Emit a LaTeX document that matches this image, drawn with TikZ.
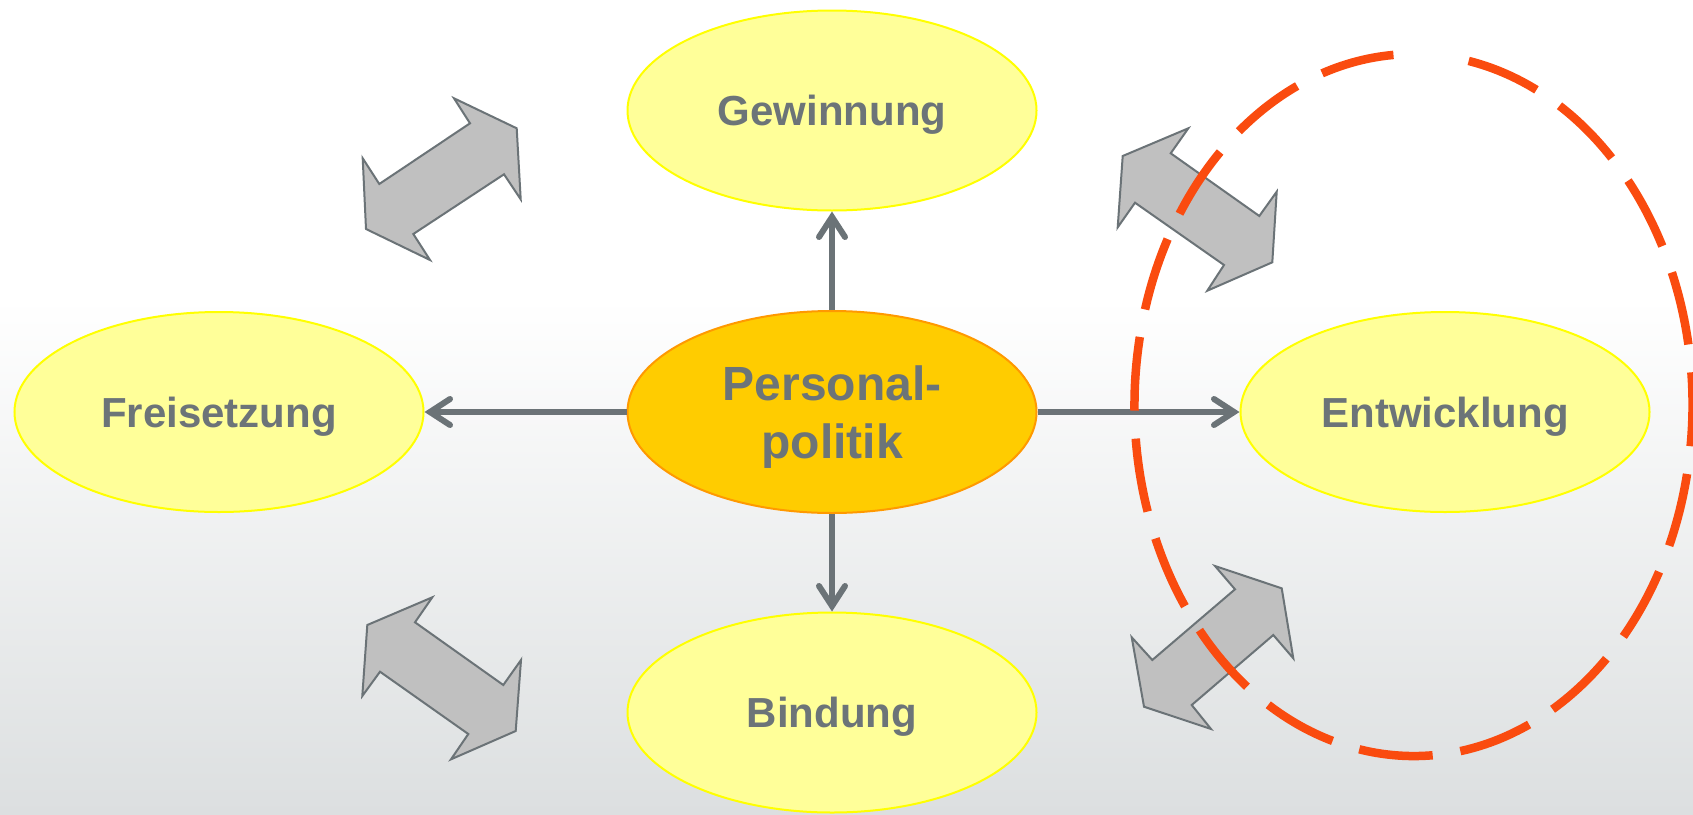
\documentclass[tikz,border=0pt]{standalone}
\usepackage{fontspec}
\setmainfont{Liberation Sans}
\usetikzlibrary{shapes.geometric,arrows.meta}
\definecolor{conncol}{RGB}{107,115,119}
\definecolor{txtcol}{RGB}{108,116,120}
\definecolor{lightfill}{RGB}{255,255,153}
\definecolor{lightborder}{RGB}{255,255,0}
\definecolor{centerfill}{RGB}{255,204,0}
\definecolor{centerborder}{RGB}{255,153,0}
\definecolor{arrowfill}{RGB}{192,192,192}
\definecolor{dashcol}{RGB}{250,75,15}
\definecolor{bggray}{RGB}{220,223,224}
\tikzset{
  outer/.style={ellipse, draw=lightborder, fill=lightfill, line width=2pt,
    minimum width=409pt, minimum height=200pt, inner sep=0pt,
    text=txtcol, font=\fontsize{42}{50}\selectfont\bfseries,
    text height=30pt, text depth=0pt},
  core/.style={ellipse, draw=centerborder, fill=centerfill, line width=2pt,
    minimum width=409pt, minimum height=202pt, inner sep=0pt,
    text=txtcol, font=\fontsize{48}{58}\selectfont\bfseries,
    align=center, text depth=0pt},
  conn/.style={draw=conncol, line width=6pt,
    -{Straight Barb[length=20pt,width=26pt,line cap=round]}},
  dblarrow/.style={fill=arrowfill, draw=conncol, line width=2pt, line join=miter},
  focus/.style={draw=dashcol, line width=8.5pt, dash pattern=on 74pt off 28pt}
}
\begin{document}
\begin{tikzpicture}[x=1pt,y=-1pt]
\useasboundingbox (0,0) rectangle (1693,814);
% background
\fill[white] (0,0) rectangle (1693,300);
\shade[top color=white, bottom color=bggray] (0,299) rectangle (1693,814);
% nodes
\node[core] (pp) at (832,412) {Personal-\\politik};
\node[outer] (gew) at (832,110.5) {Gewinnung};
\node[outer] (frei) at (219,412) {Freisetzung};
\node[outer] (entw) at (1445,412) {Entwicklung};
\node[outer] (bind) at (832,712.5) {Bindung};
% connectors
\draw[conn] (pp.north) -- (gew.south);
\draw[conn] (pp.west) -- (frei.east);
\draw[conn] (pp.east) -- (entw.west);
\draw[conn] (pp.south) -- (bind.north);
% double arrows
\draw[dblarrow] (454,98.3) -- (516.7,128.3) -- (520.7,199.3) -- (504,174.3) -- (413.3,234) -- (430,260) -- (366,229) -- (362.7,158.3) -- (379.3,184) -- (470,123.3) -- cycle;
\draw[dblarrow] (1188.3,128.3) -- (1170.7,153.3) -- (1259.3,216) -- (1276.7,191.7) -- (1272.3,262.3) -- (1207.3,290.7) -- (1224,265) -- (1135,202.7) -- (1117.7,227.3) -- (1122.7,156) -- cycle;
\draw[dblarrow] (367.3,625) -- (432.3,597.3) -- (415,622.3) -- (503.3,685) -- (521,660) -- (515.7,731) -- (451,759.3) -- (468.3,734) -- (380,671.7) -- (362.3,696) -- cycle;
\draw[dblarrow] (1215,566) -- (1281.7,588.3) -- (1293.3,658.3) -- (1273.3,635) -- (1191.7,705) -- (1211,729) -- (1144,706.7) -- (1131.7,637.3) -- (1152.3,660) -- (1235,589.3) -- cycle;
% dashed focus ellipse
\coordinate (fc) at (1413.5,405);
\draw[focus] ([shift={(-78.6:279 and 351)}]fc) arc[start angle=-78.6, end angle=266.9, x radius=279, y radius=351];
\end{tikzpicture}
\end{document}
